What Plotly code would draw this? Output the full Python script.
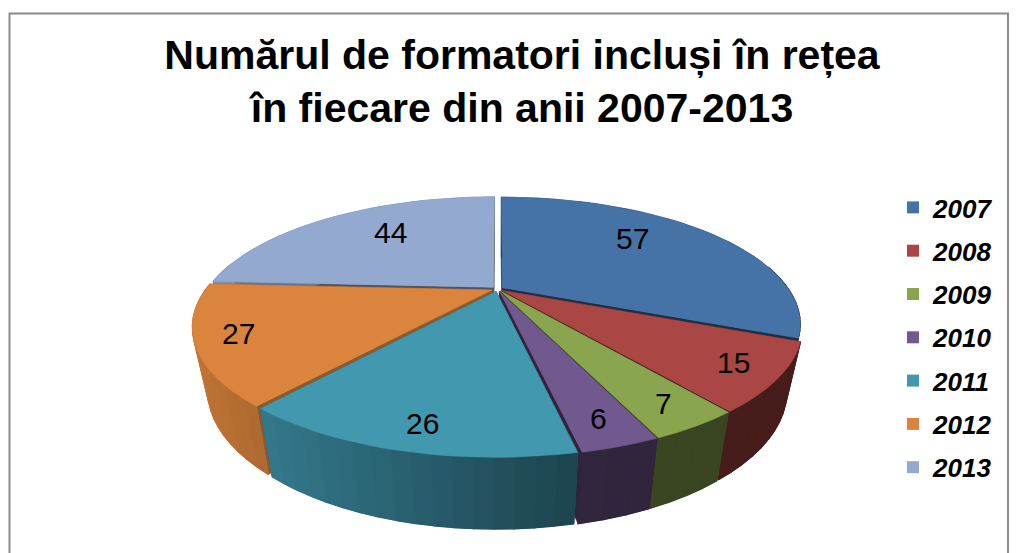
import numpy as np
import plotly.graph_objects as go

years = ["2007", "2008", "2009", "2010", "2011", "2012", "2013"]
values = [57, 15, 7, 6, 26, 27, 44]
title_lines = ["Numărul de formatori incluși în rețea", "în fiecare din anii 2007-2013"]

PALETTE = ["#4572A7", "#AA4643", "#89A54E", "#71588F", "#4198AF", "#DB843D", "#93A9CF"]
FONT = "Liberation Sans, Arial, sans-serif"
W, H = 1021, 553
CX, CY, A, B, K = 497.5, 289, 286, 117, 0.285
EXPLODE = 0.021
DRAW_ORDER = [6, 0, 5, 1, 2, 3, 4]
LABEL_XY = [(632, 238), (733, 362), (663, 403), (598, 418), (422, 423), (238, 333), (390, 232)]
FACE_SHADE = [0.42, 0.42, 0.42, 0.42, 0.5, 0.66, 0.5]


def hexrgb(c):
    return np.array([int(c[i:i + 2], 16) for i in (1, 3, 5)], float)


def shade(c, f):
    r = np.clip(hexrgb(c) * f, 0, 255).astype(int)
    return f"rgb({r[0]},{r[1]},{r[2]})"


def top(X, Y):
    w = 1 + K * Y
    return CX + A * X / w, CY - B * Y / w


def base(px, py):
    dy = max(py - CY, 0)
    return CX + 0.95 * (px - CX), py + 60 + 0.07 * dy


def wall_factor(x):
    return float(np.interp(x, [190, 265, 500, 600, 800], [0.88, 0.79, 0.53, 0.43, 0.42]))


total = sum(values)
edges = np.concatenate([[0], np.cumsum(values)]) / total * 2 * np.pi

fig = go.Figure()


def poly(xs, ys, color, lw=0.6):
    fig.add_trace(go.Scatter(
        x=xs, y=ys, mode="lines", fill="toself", fillcolor=color,
        line=dict(color=color, width=lw), hoverinfo="skip", showlegend=False))


for i in DRAW_ORDER:
    t0, t1 = edges[i], edges[i + 1]
    mid = (t0 + t1) / 2
    ox, oy = EXPLODE * np.sin(mid), EXPLODE * np.cos(mid)
    th = np.linspace(t0, t1, max(int(np.degrees(t1 - t0) / 3), 2) + 1)
    rim = [top(ox + np.sin(t), oy + np.cos(t)) for t in th]
    apex = top(ox, oy)
    bapex = base(*apex)
    # radial cut faces
    for p in (rim[0], rim[-1]):
        bp = base(*p)
        poly([apex[0], p[0], bp[0], bapex[0], apex[0]],
             [apex[1], p[1], bp[1], bapex[1], apex[1]], shade(PALETTE[i], FACE_SHADE[i]))
    # underlay for the outer wall, so no seams show through the shaded strips
    low = [base(*p) for p in rim]
    mx = float(np.mean([p[0] for p in rim]))
    poly([p[0] for p in rim] + [p[0] for p in low[::-1]] + [rim[0][0]],
         [p[1] for p in rim] + [p[1] for p in low[::-1]] + [rim[0][1]],
         shade(PALETTE[i], wall_factor(mx)))
    # outer wall, shaded by horizontal position
    for p, q in zip(rim[:-1], rim[1:]):
        if max(p[1], q[1]) < CY - 20:
            continue
        bp, bq = base(*p), base(*q)
        poly([p[0], q[0], bq[0], bp[0], p[0]], [p[1], q[1], bq[1], bp[1], p[1]],
             shade(PALETTE[i], wall_factor((p[0] + q[0]) / 2)), lw=1.2)
    # top surface
    poly([apex[0]] + [p[0] for p in rim] + [apex[0]],
         [apex[1]] + [p[1] for p in rim] + [apex[1]], PALETTE[i])

# legend entries
for i, yr in enumerate(years):
    fig.add_trace(go.Scatter(
        x=[None], y=[None], mode="markers", name=yr, legendgroup=yr,
        marker=dict(symbol="square", size=12, color=PALETTE[i]), hoverinfo="skip"))

annotations = [
    dict(x=x, y=y, xref="x", yref="y", text=str(v), showarrow=False,
         font=dict(family=FONT, size=30, color="black"))
    for (x, y), v in zip(LABEL_XY, values)
]

fig.update_layout(
    width=W, height=H, margin=dict(l=0, r=0, t=0, b=0),
    paper_bgcolor="white", plot_bgcolor="white",
    xaxis=dict(range=[0, W], visible=False, domain=[0, 1], fixedrange=True),
    yaxis=dict(range=[H, 0], visible=False, domain=[0, 1], fixedrange=True),
    title=dict(
        text="<br>".join(title_lines), x=522 / W, xanchor="center", y=1 - 69 / H, yanchor="middle",
        font=dict(family=FONT, size=41, color="black", weight="bold"), xref="paper", yref="paper"),
    legend=dict(
        x=893 / W, y=1 - 184 / H, xanchor="left", yanchor="top", tracegroupgap=6.5,
        bgcolor="rgba(0,0,0,0)", itemsizing="constant",
        font=dict(family=FONT, size=26, color="black", style="italic", weight="bold")),
    annotations=annotations,
    shapes=[dict(type="rect", xref="paper", yref="paper",
                 x0=9.5 / W, x1=1008 / W, y0=-0.02, y1=1 - 13.5 / H,
                 line=dict(color="#8c8c8c", width=2), fillcolor="rgba(0,0,0,0)", layer="below")],
    showlegend=True,
)

fig.write_html("out.html", config=dict(displayModeBar=False),
               post_script="document.body.style.margin='0';")
